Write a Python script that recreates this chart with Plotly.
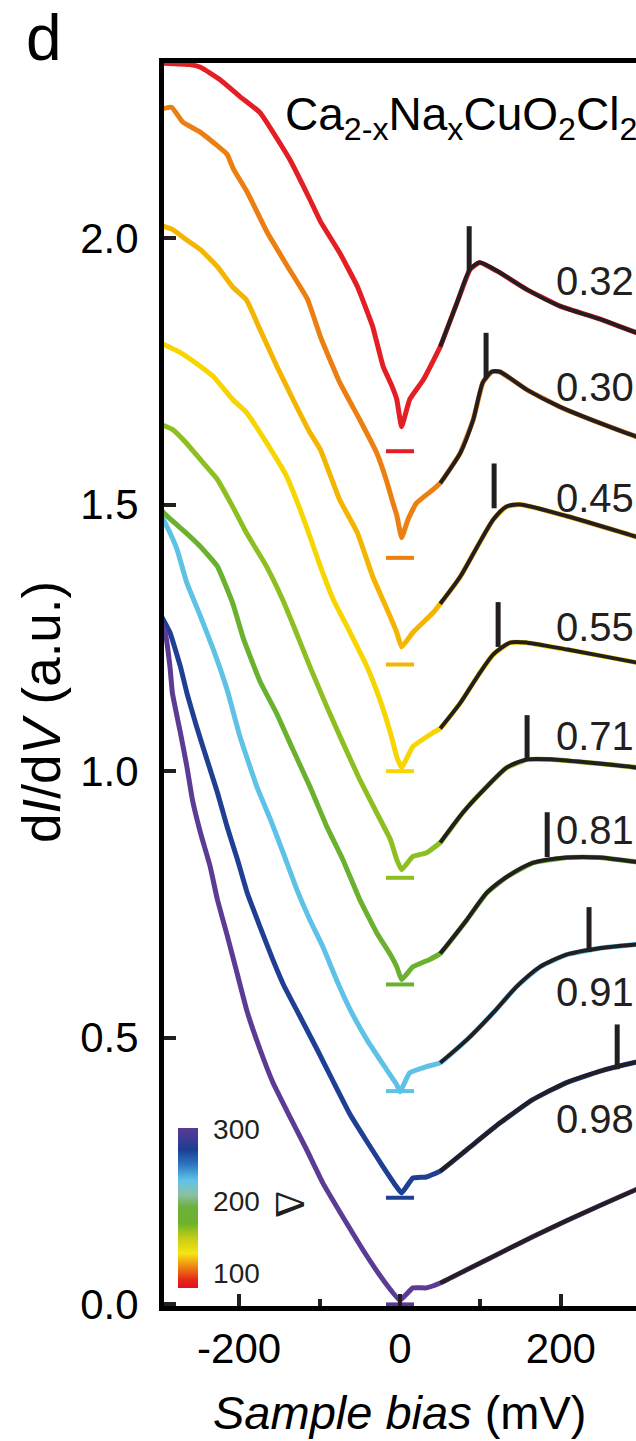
import plotly.graph_objects as go

# ---------------- data ----------------
# sample bias (mV) and dI/dV (a.u., offset) for each spectrum
v_red = [-300, -261, -248, -224, -199, -174, -137, -112, -99, -75, -53, -34, -21, -10, -4, 2, 12, 29, 50, 71, 87, 99, 124, 158, 199, 248, 293, 300]
g_red = [2.328, 2.325, 2.320, 2.297, 2.265, 2.235, 2.147, 2.072, 2.031, 1.972, 1.909, 1.834, 1.759, 1.722, 1.697, 1.646, 1.697, 1.734, 1.796, 1.879, 1.941, 1.954, 1.935, 1.903, 1.872, 1.848, 1.823, 1.820]

v_orange = [-300, -284, -270, -248, -232, -215, -207, -190, -165, -140, -115, -99, -75, -50, -29, -16, -9, -4, 2, 10, 20, 41, 50, 75, 91, 103, 114, 124, 158, 199, 248, 293, 300]
g_orange = [2.240, 2.245, 2.217, 2.198, 2.179, 2.157, 2.129, 2.086, 2.010, 1.947, 1.885, 1.815, 1.729, 1.659, 1.597, 1.541, 1.504, 1.480, 1.438, 1.472, 1.502, 1.528, 1.540, 1.597, 1.659, 1.729, 1.749, 1.749, 1.715, 1.683, 1.653, 1.628, 1.625]

v_amber = [-300, -283, -266, -248, -227, -208, -191, -174, -153, -133, -112, -99, -75, -53, -34, -16, -4, 2, 16, 41, 50, 75, 96, 116, 132, 149, 208, 293, 300]
g_amber = [2.025, 2.016, 1.997, 1.978, 1.946, 1.908, 1.884, 1.828, 1.759, 1.697, 1.635, 1.603, 1.509, 1.447, 1.365, 1.303, 1.260, 1.233, 1.260, 1.297, 1.314, 1.365, 1.421, 1.472, 1.496, 1.500, 1.478, 1.440, 1.437]

v_yellow = [-300, -273, -248, -232, -208, -191, -166, -141, -124, -112, -99, -83, -62, -41, -25, -12, -4, 2, 16, 41, 50, 75, 96, 116, 137, 158, 208, 293, 300]
g_yellow = [1.805, 1.785, 1.759, 1.740, 1.697, 1.673, 1.616, 1.553, 1.490, 1.440, 1.384, 1.322, 1.260, 1.196, 1.134, 1.072, 1.027, 1.007, 1.046, 1.072, 1.080, 1.128, 1.177, 1.219, 1.241, 1.241, 1.228, 1.204, 1.202]

v_ygreen = [-300, -283, -266, -248, -227, -208, -191, -166, -146, -133, -112, -91, -71, -50, -29, -12, -4, 2, 16, 33, 50, 78, 108, 133, 158, 190, 293, 300]
g_ygreen = [1.652, 1.641, 1.616, 1.584, 1.547, 1.496, 1.447, 1.384, 1.322, 1.275, 1.196, 1.121, 1.053, 0.984, 0.922, 0.872, 0.834, 0.815, 0.840, 0.847, 0.866, 0.922, 0.971, 1.007, 1.022, 1.022, 1.007, 1.005]

v_green = [-300, -285, -266, -248, -227, -208, -195, -174, -153, -133, -112, -91, -71, -50, -29, -12, -4, 2, 16, 37, 50, 83, 108, 133, 165, 208, 248, 293, 300]
g_green = [1.494, 1.472, 1.447, 1.421, 1.384, 1.315, 1.250, 1.168, 1.107, 1.040, 0.971, 0.896, 0.834, 0.759, 0.697, 0.656, 0.633, 0.609, 0.633, 0.647, 0.658, 0.721, 0.772, 0.802, 0.828, 0.838, 0.838, 0.830, 0.829]

v_lblue = [-300, -286, -277, -265, -248, -232, -215, -199, -178, -161, -145, -128, -112, -96, -79, -62, -41, -21, -4, 0, 12, 33, 50, 83, 116, 145, 174, 207, 248, 293, 300]
g_lblue = [1.490, 1.447, 1.415, 1.353, 1.290, 1.228, 1.153, 1.065, 0.971, 0.909, 0.846, 0.777, 0.721, 0.671, 0.609, 0.553, 0.496, 0.450, 0.412, 0.399, 0.434, 0.446, 0.453, 0.496, 0.547, 0.596, 0.633, 0.656, 0.668, 0.675, 0.676]

v_dblue = [-300, -286, -273, -265, -253, -240, -227, -215, -202, -190, -174, -158, -145, -124, -103, -83, -62, -41, -21, -4, 2, 16, 33, 50, 83, 124, 165, 207, 248, 293, 300]
g_dblue = [1.300, 1.260, 1.196, 1.147, 1.084, 1.022, 0.960, 0.896, 0.834, 0.772, 0.708, 0.646, 0.600, 0.539, 0.478, 0.418, 0.356, 0.305, 0.258, 0.220, 0.209, 0.237, 0.239, 0.250, 0.290, 0.340, 0.384, 0.416, 0.437, 0.454, 0.456]

v_purple = [-300, -292, -286, -283, -273, -265, -258, -248, -236, -227, -215, -202, -190, -174, -158, -137, -116, -96, -71, -46, -21, 0, 16, 33, 50, 83, 124, 165, 207, 248, 293, 300]
g_purple = [1.290, 1.260, 1.196, 1.147, 1.072, 1.009, 0.946, 0.884, 0.821, 0.759, 0.693, 0.618, 0.549, 0.478, 0.416, 0.352, 0.290, 0.228, 0.164, 0.102, 0.046, 0.008, 0.031, 0.031, 0.040, 0.065, 0.096, 0.127, 0.157, 0.185, 0.215, 0.220]

baselines = [1.6, 1.4, 1.2, 1.0, 0.8, 0.6, 0.4, 0.2, 0.0]   # zero-conductance marks
fit_start_mv = 50

peak_v = [86, 107, 117, 122, 158, 183, 235, 270]
peak_g = [1.98, 1.78, 1.535, 1.275, 1.063, 0.881, 0.703, 0.483]

doping_labels = ["0.32", "0.30", "0.45", "0.55", "0.71", "0.81", "0.91", "0.98"]
doping_label_g = [1.92, 1.72, 1.513, 1.271, 1.065, 0.89, 0.586, 0.348]
doping_label_v = 192

x_ticks = [-200, 0, 200]
x_tick_text = ["-200", "0", "200"]
x_minor_ticks = [-100, 100]
y_ticks = [0.0, 0.5, 1.0, 1.5, 2.0]
cbar_ticks = [100, 200, 300]

# ---------------- styles ----------------
series = [
    (v_red, g_red, "#e31e24"),
    (v_orange, g_orange, "#ec7f12"),
    (v_amber, g_amber, "#f4b500"),
    (v_yellow, g_yellow, "#f7d600"),
    (v_ygreen, g_ygreen, "#8dbf22"),
    (v_green, g_green, "#6ab12f"),
    (v_lblue, g_lblue, "#5ec1e6"),
    (v_dblue, g_dblue, "#1f3f95"),
    (v_purple, g_purple, "#5b3b93"),
]
colorscale = [
    [0.0, "#e3101c"], [0.054, "#e52a19"], [0.126, "#ef7d12"], [0.216, "#f7e514"],
    [0.315, "#c2cc14"], [0.405, "#6db22c"], [0.505, "#6eb03c"], [0.586, "#8cc0a8"],
    [0.676, "#5ec3e8"], [0.775, "#2a74be"], [0.865, "#1c3d92"], [1.0, "#5a3a95"],
]
INK = "#231f20"
FONT = "Liberation Sans, Arial, Helvetica, sans-serif"

W, H = 636, 1441
L, R, T, B = 164, 636, 63, 1306


def px_x(x):
    return (x - L) / (R - L)


def px_y(y):
    return (B - y) / (B - T)


fig = go.Figure()

for v, g, c in series:
    fig.add_trace(go.Scatter(x=v, y=g, mode="lines",
                             line=dict(color=c, width=5, shape="spline", smoothing=0.35),
                             hoverinfo="skip", showlegend=False))

for v, g, c in series:
    fv = [a for a in v if a >= fit_start_mv]
    fg = [b for a, b in zip(v, g) if a >= fit_start_mv]
    fig.add_trace(go.Scatter(x=fv, y=fg, mode="lines",
                             line=dict(color=INK, width=4, shape="spline", smoothing=0.7),
                             hoverinfo="skip", showlegend=False))

fig.add_trace(go.Scatter(x=[0] * len(baselines), y=baselines, mode="markers",
                         marker=dict(symbol="line-ew", size=20,
                                     line=dict(width=4, color=[s[2] for s in series])),
                         hoverinfo="skip", showlegend=False))

fig.add_trace(go.Scatter(x=peak_v, y=peak_g, mode="markers",
                         marker=dict(symbol="line-ns", size=32, line=dict(width=5, color=INK)),
                         hoverinfo="skip", showlegend=False))

# colour scale legend
fig.add_trace(go.Scatter(x=[None], y=[None], mode="markers", hoverinfo="skip", showlegend=False,
                         marker=dict(color=[200], colorscale=colorscale, cmin=80, cmax=302,
                                     showscale=True,
                                     colorbar=dict(x=px_x(178), xanchor="left", xpad=0,
                                                   y=px_y(1208), yanchor="middle", ypad=0,
                                                   lenmode="pixels", len=160,
                                                   thicknessmode="pixels", thickness=20,
                                                   outlinewidth=0, tickvals=cbar_ticks,
                                                   ticks="outside", ticklen=10,
                                                   tickcolor="rgba(0,0,0,0)",
                                                   tickfont=dict(size=28, color=INK, family=FONT)))))

annotations = []
for txt, gy in zip(doping_labels, doping_label_g):
    annotations.append(dict(x=doping_label_v, y=gy, xref="x", yref="y", text=txt,
                            showarrow=False, xanchor="left", yanchor="middle",
                            font=dict(size=40, color=INK, family=FONT)))

annotations += [
    dict(x=px_x(44), y=px_y(38), xref="paper", yref="paper", text="d", showarrow=False,
         xanchor="center", yanchor="middle", font=dict(size=64, color="#000", family=FONT)),
    dict(x=px_x(283), y=px_y(118), xref="paper", yref="paper",
         text="Ca<sub>2-x</sub>Na<sub>x</sub>CuO<sub>2</sub>Cl<sub>2</sub>",
         showarrow=False, xanchor="left", yanchor="middle",
         font=dict(size=46, color="#000", family=FONT)),
    dict(x=px_x(400), y=px_y(1412), xref="paper", yref="paper",
         text="<i>Sample bias</i> (mV)", showarrow=False, xanchor="center", yanchor="middle",
         font=dict(size=47, color="#000", family=FONT)),
    dict(x=px_x(42), y=px_y(712), xref="paper", yref="paper",
         text="d<i>I</i>/d<i>V</i> (a.u.)", showarrow=False, textangle=-90,
         xanchor="center", yanchor="middle",
         font=dict(size=53, color="#000", family=FONT)),
    dict(x=px_x(290), y=px_y(1204), xref="paper", yref="paper", text="Δ", showarrow=False,
         textangle=90, xanchor="center", yanchor="middle",
         font=dict(size=42, color=INK, family="Liberation Serif, serif")),
]

fig.update_layout(
    width=W, height=H, autosize=False,
    margin=dict(l=L, r=W - R, t=T, b=H - B, pad=0),
    paper_bgcolor="white", plot_bgcolor="white",
    font=dict(family=FONT, color="#000"),
    annotations=annotations,
    xaxis=dict(range=[-293.4, 293.4], tickvals=x_ticks, ticktext=x_tick_text,
               ticks="inside", ticklen=12,
               tickwidth=4, tickcolor=INK, showline=True, linewidth=5, linecolor="#000",
               mirror=True, showgrid=False, zeroline=False,
               tickfont=dict(size=42, color="#000", family=FONT), ticklabelstandoff=2,
               minor=dict(tickvals=x_minor_ticks, ticks="inside", ticklen=7, tickwidth=4,
                          tickcolor=INK, showgrid=False)),
    yaxis=dict(range=[-0.003, 2.328], tickvals=y_ticks, tickformat=".1f", ticks="inside",
               ticklen=12, tickwidth=4, tickcolor=INK, showline=True, linewidth=5,
               linecolor="#000", mirror=False, showgrid=False, zeroline=False,
               tickfont=dict(size=42, color="#000", family=FONT), ticklabelstandoff=12),
)

fig.write_html("out.html", config={"displayModeBar": False},
               post_script="document.body.style.margin='0';")
